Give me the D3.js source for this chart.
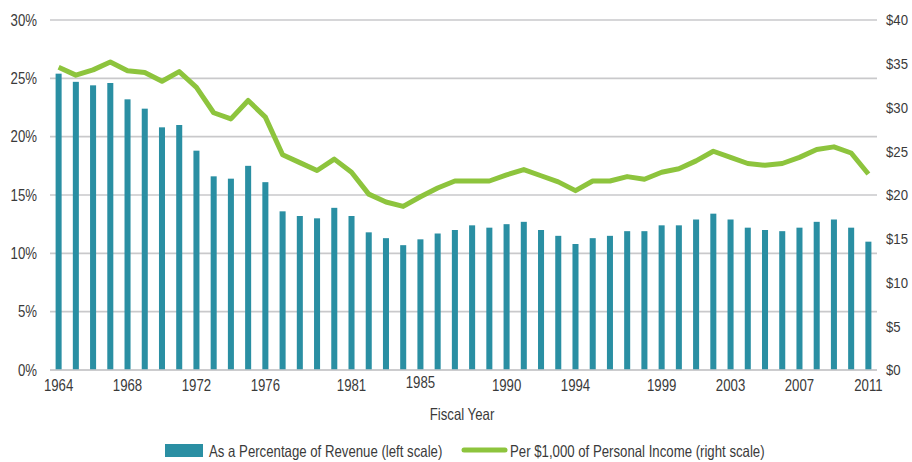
<!DOCTYPE html>
<html>
<head>
<meta charset="utf-8">
<script src="https://cdn.jsdelivr.net/npm/d3@7"></script>
<style>
  html, body { margin: 0; padding: 0; background: #ffffff; }
  svg { display: block; }
  text { font-family: "Liberation Sans", Arial, sans-serif; fill: #3a3a3a; }
</style>
</head>
<body>
<svg id="chart" width="912" height="462"></svg>
<script>
const years = d3.range(1964, 2012);
const revenuePct = [
  25.4, 24.7, 24.4, 24.6, 23.2, 22.4, 20.8, 21.0, 18.8, 16.6,
  16.4, 17.5, 16.1, 13.6, 13.2, 13.0, 13.9, 13.2, 11.8, 11.3,
  10.7, 11.2, 11.7, 12.0, 12.4, 12.2, 12.5, 12.7, 12.0, 11.5,
  10.8, 11.3, 11.5, 11.9, 11.9, 12.4, 12.4, 12.9, 13.4, 12.9,
  12.2, 12.0, 11.9, 12.2, 12.7, 12.9, 12.2, 11.0
];
const perThousand = [
  34.6, 33.7, 34.3, 35.2, 34.2, 34.0, 33.0, 34.1, 32.3, 29.4,
  28.7, 30.8, 28.9, 24.6, 23.7, 22.8, 24.1, 22.6, 20.1, 19.2,
  18.7, 19.8, 20.8, 21.6, 21.6, 21.6, 22.3, 22.9, 22.2, 21.5,
  20.5, 21.6, 21.6, 22.1, 21.8, 22.6, 23.0, 23.9, 25.0, 24.3,
  23.6, 23.4, 23.6, 24.3, 25.2, 25.5, 24.8, 22.4
];
const leftTicks = [0, 5, 10, 15, 20, 25, 30];
const rightTicks = [0, 5, 10, 15, 20, 25, 30, 35, 40];
const yearTicks = [1964, 1968, 1972, 1976, 1981, 1985, 1990, 1994, 1999, 2003, 2007, 2011];
const legendLabels = ["As a Percentage of Revenue (left scale)", "Per $1,000 of Personal Income (right scale)"];
const xTitle = "Fiscal Year";

const barColor = "#2a8fa3";
const lineColor = "#8dc43d";
const gridColor = "#c9c9cb";
const FS = 16.5;
const SQUEEZE = 0.8;

const svg = d3.select("#chart");
const mLeft = 50, mRight = 877, mTop = 20, mBottom = 370;

// condense text to mimic the narrow typeface of the original
function condense(sel, k = SQUEEZE) {
  sel.each(function () {
    const w = this.getComputedTextLength();
    d3.select(this).attr("textLength", w * k).attr("lengthAdjust", "spacingAndGlyphs");
  });
}

const x = d3.scaleBand().domain(years).range([mLeft, mRight]).paddingInner(0.65).paddingOuter(0.325);
const yL = d3.scaleLinear().domain([0, 30]).range([mBottom, mTop]);
const yR = d3.scaleLinear().domain([0, 40]).range([mBottom, mTop]);

// gridlines
svg.append("g").selectAll("line").data(leftTicks).join("line")
  .attr("x1", mLeft).attr("x2", mRight)
  .attr("y1", d => yL(d)).attr("y2", d => yL(d))
  .attr("stroke", gridColor).attr("stroke-width", 1.6);

// left axis
const axL = svg.append("g").attr("transform", `translate(${mLeft},0)`)
  .call(d3.axisLeft(yL).tickValues(leftTicks).tickFormat(d => d + "%").tickSize(0).tickPadding(13));
axL.select(".domain").remove();
axL.attr("font-family", null).attr("font-size", null);
axL.selectAll("text").attr("font-size", FS).call(condense);

// right axis
const axR = svg.append("g").attr("transform", `translate(${mRight},0)`)
  .call(d3.axisRight(yR).tickValues(rightTicks).tickFormat(d => "$" + d).tickSize(0).tickPadding(9));
axR.select(".domain").remove();
axR.attr("font-family", null).attr("font-size", null);
axR.selectAll("text").attr("font-size", 15.5).call(condense, 0.85);

// bars
svg.append("g").selectAll("rect").data(years).join("rect")
  .attr("x", (d) => x(d))
  .attr("width", x.bandwidth())
  .attr("y", (d, i) => yL(revenuePct[i]))
  .attr("height", (d, i) => yL(0) - yL(revenuePct[i]))
  .attr("fill", barColor);

// baseline
svg.append("line").attr("x1", mLeft).attr("x2", mRight).attr("y1", yL(0)).attr("y2", yL(0))
  .attr("stroke", gridColor).attr("stroke-width", 1.6);

// line
const line = d3.line()
  .x((d, i) => x(years[i]) + x.bandwidth() / 2)
  .y(d => yR(d));
svg.append("path").datum(perThousand)
  .attr("d", line)
  .attr("fill", "none")
  .attr("stroke", lineColor)
  .attr("stroke-width", 5)
  .attr("stroke-linejoin", "round")
  .attr("stroke-linecap", "butt");

// x axis
const axX = svg.append("g").attr("transform", `translate(0,${mBottom})`)
  .call(d3.axisBottom(x).tickValues(yearTicks).tickSize(0).tickPadding(9));
axX.select(".domain").remove();
axX.attr("font-family", null).attr("font-size", null);
axX.selectAll("text").attr("font-size", FS)
  .attr("dy", d => d === 1985 ? "0.55em" : "0.71em")
  .call(condense);

// axis title
svg.append("text").attr("x", 462).attr("y", 420).attr("text-anchor", "middle")
  .attr("font-size", FS).text(xTitle).call(condense);

// legend
const lg = svg.append("g");
lg.append("rect").attr("x", 165).attr("y", 444).attr("width", 38).attr("height", 13).attr("fill", barColor);
lg.append("text").attr("x", 209).attr("y", 456.5).attr("font-size", FS).text(legendLabels[0]).call(condense);
lg.append("line").attr("x1", 464).attr("x2", 505).attr("y1", 450).attr("y2", 450)
  .attr("stroke", lineColor).attr("stroke-width", 5).attr("stroke-linecap", "round");
lg.append("text").attr("x", 510).attr("y", 456.5).attr("font-size", FS).text(legendLabels[1]).call(condense);
</script>
</body>
</html>
